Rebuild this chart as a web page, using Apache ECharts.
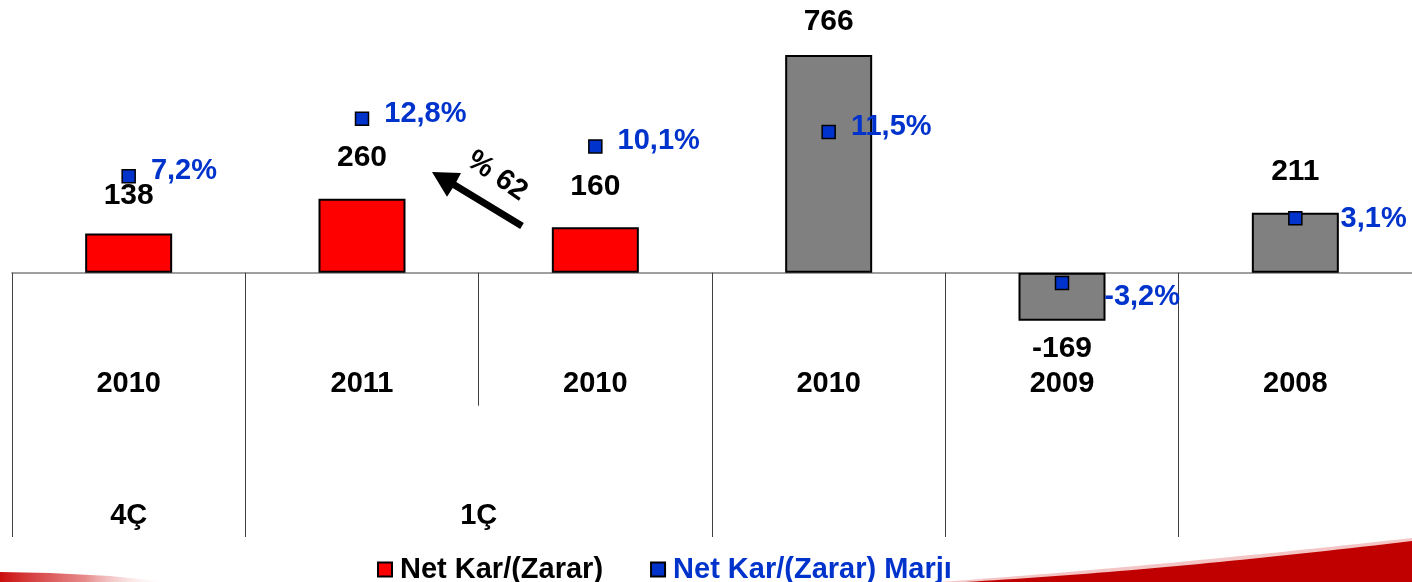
<!DOCTYPE html>
<html>
<head>
<meta charset="utf-8">
<script src="https://cdn.jsdelivr.net/npm/echarts@6/dist/echarts.min.js"></script>
<style>
  html, body { margin: 0; padding: 0; background: #fff; }
  #chart { width: 1412px; height: 582px; }
</style>
</head>
<body>
<div id="chart"></div>
<script>
// Dönem yılları (x ekseni)
const years = ['2010', '2011', '2010', '2010', '2009', '2008'];
// Çeyrek grupları: etiket ve kapsadığı sütun aralığı [from, to)
const quarterGroups = [
  { label: '4Ç', from: 0, to: 1 },
  { label: '1Ç', from: 1, to: 3 },
  { label: '', from: 3, to: 4 },
  { label: '', from: 4, to: 5 },
  { label: '', from: 5, to: 6 }
];
// Net Kar/(Zarar): çeyreklik (kırmızı) ve yıllık (gri), mn TL
const quarterlyNet = [138, 260, 160, null, null, null];
const annualNet = [null, null, null, 766, -169, 211];
// Net Kar/(Zarar) Marjı, %
const netMargin = [7.2, 12.8, 10.1, 11.5, -3.2, 3.1];
// Yıllık artış oku etiketi
const growthLabel = '% 62';

const FONT = "'Liberation Sans', Arial, Helvetica, sans-serif";
const BLUE = '#0033cc';

// Alt satır ekseni: her sütun sınırı ve ortası bir nokta (2n+1 nokta)
const nCols = years.length;
const groupPoints = new Array(nCols * 2 + 1).fill('');
const groupTickIdx = new Set();
quarterGroups.forEach(g => {
  groupPoints[g.from + g.to] = g.label;
  groupTickIdx.add(g.from * 2);
  groupTickIdx.add(g.to * 2);
});

// Etiket ince ayarları
const barLabelTweaks = { 0: { distance: 23 }, 3: { distance: 18 } };
const marginLabelTweaks = { 4: { offset: [20, 14] }, 5: { offset: [23, 1] } };

function barItems(values) {
  return values.map((v, i) => {
    if (v == null) return '-';
    const label = Object.assign({}, barLabelTweaks[i] || {});
    if (v < 0) { label.position = 'bottom'; label.distance = 13; }
    return { value: v, label: label };
  });
}

// Alt kenardaki kavisli şerit için ikinci dereceden Bezier noktaları
function quadBand(p0, c, p1, close) {
  const pts = [];
  for (let i = 0; i <= 40; i++) {
    const t = i / 40, u = 1 - t;
    pts.push([u * u * p0[0] + 2 * u * t * c[0] + t * t * p1[0],
              u * u * p0[1] + 2 * u * t * c[1] + t * t * p1[1]]);
  }
  return pts.concat(close);
}

const barLabel = {
  show: true, position: 'top', distance: 26,
  color: '#000', fontSize: 30, fontWeight: 'bold', fontFamily: FONT
};

const chart = echarts.init(document.getElementById('chart'), null, { renderer: 'canvas' });

chart.setOption({
  animation: false,
  backgroundColor: '#fff',
  grid: [
    { left: 12, right: 0, top: 17, height: 369.4, outerBoundsMode: 'none' },
    { left: 12, right: 0, top: 405, height: 132, outerBoundsMode: 'none' }
  ],
  legend: {
    data: [
      { name: 'Net Kar/(Zarar)', textStyle: { color: '#000' } },
      { name: 'Net Kar/(Zarar) Marjı', textStyle: { color: BLUE } }
    ],
    left: 372, top: 550,
    icon: 'rect', itemWidth: 14, itemHeight: 14, itemGap: 47,
    itemStyle: { borderColor: '#000', borderWidth: 2 },
    textStyle: { fontSize: 29, fontWeight: 'bold', fontFamily: FONT, padding: [0, 0, 0, 3] }
  },
  xAxis: [
    {
      type: 'category', gridIndex: 0, data: years,
      axisLine: { show: true, onZero: true, lineStyle: { color: '#808080', width: 1.5 } },
      axisTick: { show: true, length: 133, inside: false, lineStyle: { color: '#404040', width: 1 } },
      axisLabel: { margin: -16.5, interval: 0, color: '#000', fontSize: 29, fontWeight: 'bold', fontFamily: FONT },
      splitLine: { show: false }
    },
    {
      type: 'category', gridIndex: 1, data: groupPoints, boundaryGap: false, position: 'bottom',
      axisLine: { show: false },
      axisTick: {
        show: true, inside: true, length: 132,
        interval: (idx) => groupTickIdx.has(idx),
        lineStyle: { color: '#404040', width: 1 }
      },
      axisLabel: {
        inside: true, margin: 7, interval: 0, color: '#000',
        fontSize: 29, fontWeight: 'bold', fontFamily: FONT
      },
      splitLine: { show: false }
    }
  ],
  yAxis: [
    { type: 'value', gridIndex: 0, min: -400, max: 900, show: false, splitLine: { show: false } },
    { type: 'value', gridIndex: 0, min: -13.26, max: 22.7, show: false, splitLine: { show: false } },
    { type: 'value', gridIndex: 1, show: false, splitLine: { show: false } }
  ],
  series: [
    {
      name: 'Net Kar/(Zarar)', type: 'bar', xAxisIndex: 0, yAxisIndex: 0,
      data: barItems(quarterlyNet), barWidth: 87, barGap: '-100%',
      itemStyle: { color: '#ff0000', borderColor: '#000', borderWidth: 2 },
      label: barLabel, z: 2
    },
    {
      name: 'Yıllık Net Kar/(Zarar)', type: 'bar', xAxisIndex: 0, yAxisIndex: 0,
      data: barItems(annualNet), barWidth: 87, barGap: '-100%',
      itemStyle: { color: '#808080', borderColor: '#000', borderWidth: 2 },
      label: barLabel, z: 2
    },
    {
      name: 'Net Kar/(Zarar) Marjı', type: 'scatter', xAxisIndex: 0, yAxisIndex: 1,
      data: netMargin.map((v, i) => marginLabelTweaks[i] ? { value: v, label: marginLabelTweaks[i] } : v),
      symbol: 'rect', symbolSize: 13,
      itemStyle: { color: BLUE, borderColor: '#000', borderWidth: 1.5, opacity: 1 },
      label: {
        show: true, position: 'right', distance: 15, offset: [0, -5],
        color: BLUE, fontSize: 29, fontWeight: 'bold', fontFamily: FONT,
        formatter: p => p.value.toFixed(1).replace('.', ',') + '%'
      },
      z: 5
    }
  ],
  graphic: [
    // Yıllık artış oku
    {
      type: 'polygon', z: 10,
      shape: { points: [[523.8, 223.0], [456.3, 182.1], [461.0, 172.9], [432, 172], [447.0, 196.8], [452.7, 188.1], [520.2, 229.0]] },
      style: { fill: '#000' }
    },
    {
      type: 'text', z: 10, x: 497, y: 176, rotation: -0.6,
      style: {
        text: growthLabel, fontSize: 29, fontWeight: 'bold', fontFamily: FONT,
        fill: '#000', align: 'center', verticalAlign: 'middle'
      }
    },
    // Alt kenar dekoratif kırmızı şeritler
    {
      type: 'polygon', z: 0, silent: true,
      shape: { points: [[0, 572], [50, 573], [110, 576], [170, 582], [0, 582]] },
      style: {
        fill: new echarts.graphic.LinearGradient(0, 0, 1, 0, [
          { offset: 0, color: 'rgba(200,0,0,0.95)' },
          { offset: 0.5, color: 'rgba(215,60,60,0.6)' },
          { offset: 1, color: 'rgba(255,255,255,0)' }
        ])
      }
    },
    {
      type: 'polygon', z: 0, silent: true,
      shape: { points: quadBand([940, 582], [1150, 567], [1412, 538], [[1412, 582]]) },
      style: { fill: 'rgba(235,150,150,0.55)' }
    },
    {
      type: 'polygon', z: 0, silent: true,
      shape: { points: quadBand([965, 582], [1160, 571], [1412, 541], [[1412, 582]]) },
      style: { fill: '#c00000' }
    }
  ]
});
</script>
</body>
</html>
